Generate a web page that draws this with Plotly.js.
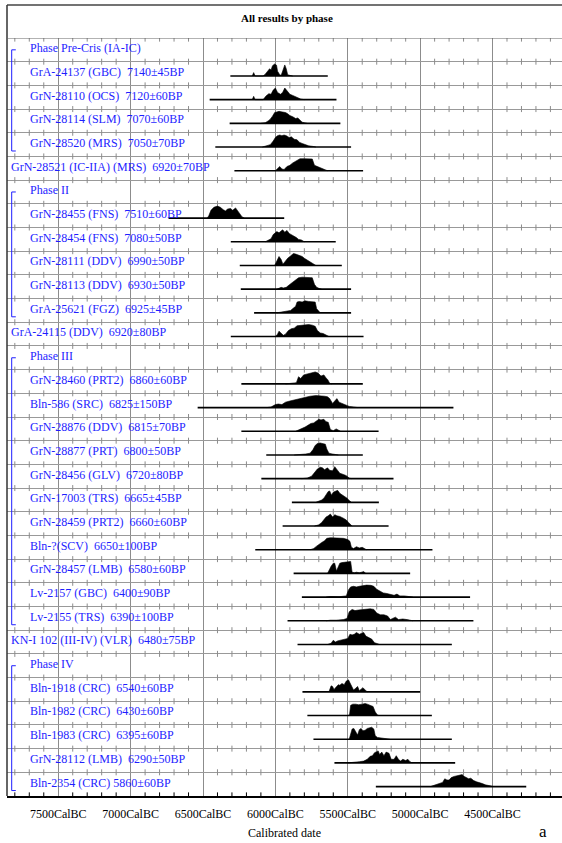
<!DOCTYPE html>
<html>
<head>
<meta charset="utf-8">
<script src="https://cdn.plot.ly/plotly-3.0.1.min.js"></script>
<style>
html,body{margin:0;padding:0;background:#fff;overflow:hidden;}
#chart{width:562px;height:843px;}
</style>
</head>
<body>
<div id="chart"></div>
<script>
// ---------------- DATA ----------------
const rowLabels = [
  "Phase Pre-Cris (IA-IC)",
  "GrA-24137 (GBC) \u00a07140±45BP",
  "GrN-28110 (OCS) \u00a07120±60BP",
  "GrN-28114 (SLM) \u00a07070±60BP",
  "GrN-28520 (MRS) \u00a07050±70BP",
  "GrN-28521 (IC-IIA) (MRS) \u00a06920±70BP",
  "Phase II",
  "GrN-28455 (FNS) \u00a07510±60BP",
  "GrN-28454 (FNS) \u00a07080±50BP",
  "GrN-28111 (DDV) \u00a06990±50BP",
  "GrN-28113 (DDV) \u00a06930±50BP",
  "GrA-25621 (FGZ) \u00a06925±45BP",
  "GrA-24115 (DDV) \u00a06920±80BP",
  "Phase III",
  "GrN-28460 (PRT2) \u00a06860±60BP",
  "Bln-586 (SRC) \u00a06825±150BP",
  "GrN-28876 (DDV) \u00a06815±70BP",
  "GrN-28877 (PRT) \u00a06800±50BP",
  "GrN-28456 (GLV) \u00a06720±80BP",
  "GrN-17003 (TRS) \u00a06665±45BP",
  "GrN-28459 (PRT2) \u00a06660±60BP",
  "Bln-?(SCV) \u00a06650±100BP",
  "GrN-28457 (LMB) \u00a06580±60BP",
  "Lv-2157 (GBC) \u00a06400±90BP",
  "Lv-2155 (TRS) \u00a06390±100BP",
  "KN-I 102 (III-IV) (VLR) \u00a06480±75BP",
  "Phase IV",
  "Bln-1918 (CRC) \u00a06540±60BP",
  "Bln-1982 (CRC) \u00a06430±60BP",
  "Bln-1983 (CRC) \u00a06395±60BP",
  "GrN-28112 (LMB) \u00a06290±50BP",
  "Bln-2354 (CRC) 5860±60BP"
];
// 'phase' = phase header, 'date' = date inside a phase, 'outside' = date between phases
const rowKind = [
  "phase","date","date","date","date","outside",
  "phase","date","date","date","date","date","outside",
  "phase","date","date","date","date","date","date","date","date","date","date","date","outside",
  "phase","date","date","date","date","date"
];
// calibrated range shown (years cal BC)
const rangeStart = [null,6311,6454,6316,6415,6283,null,6738,6308,6246,6239,6147,6308,null,
  6235,6537,6235,6063,6097,5886,5950,6139,5874,5817,5916,5847,null,5813,5779,5737,5592,5306];
const rangeEnd = [null,5638,5578,5551,5477,5394,null,5939,5583,5541,5477,5477,5391,null,
  5396,4770,5287,5396,5184,5285,5218,4915,5069,4655,4632,4781,null,5000,4919,4781,4758,4267];

// probability distributions: years cal BC and relative density
const distYears = [
  null,
  [6160,6150,6140,6085,6070,6050,6040,6030,6020,6005,5992,5985,5970,5960,5945,5935,5925,5915,5900,5880],
  [6160,6150,6140,6085,6065,6045,6030,6015,6000,5985,5965,5950,5935,5920,5900,5880,5860,5840,5825,5800],
  [6100,6070,6050,6035,6020,6005,5990,5975,5960,5945,5930,5915,5900,5880,5860,5845,5830,5815,5800,5780],
  [6090,6060,6035,6015,6000,5985,5970,5955,5940,5925,5905,5890,5870,5850,5835,5815,5795,5770,5740,5720],
  [6000,5985,5970,5955,5940,5920,5900,5880,5860,5845,5830,5800,5770,5745,5730,5710,5690,5670,5650,5640],
  null,
  [6470,6460,6445,6425,6400,6380,6360,6345,6330,6310,6295,6275,6260,6245,6230,6215],
  [6070,6050,6030,6015,6000,5990,5975,5960,5950,5935,5920,5905,5885,5870,5855,5840,5820,5800],
  [6005,5990,5975,5960,5948,5935,5915,5895,5875,5860,5845,5830,5815,5800,5780,5760,5740,5720],
  [5990,5975,5960,5945,5925,5905,5890,5870,5855,5840,5815,5790,5765,5745,5730,5715,5695,5680],
  [5990,5960,5920,5895,5875,5860,5850,5835,5815,5795,5770,5745,5725,5715,5700,5690],
  [6000,5985,5975,5960,5945,5930,5910,5890,5870,5850,5825,5800,5770,5745,5725,5710,5690,5670,5650,5630],
  null,
  [5930,5890,5855,5840,5825,5805,5780,5760,5740,5725,5705,5685,5665,5650,5638,5625,5610],
  [6060,6030,6000,5980,5955,5930,5900,5870,5840,5800,5760,5720,5690,5660,5640,5625,5605,5590,5575,5560,5535,5510,5490,5460,5430],
  [5860,5840,5815,5795,5775,5755,5735,5715,5700,5685,5665,5650,5635,5620,5600,5580,5565,5550],
  [5870,5830,5790,5760,5740,5725,5710,5690,5670,5655,5645,5630,5615,5590,5565],
  [5820,5780,5750,5730,5710,5690,5675,5660,5640,5625,5605,5590,5575,5555,5530,5510,5490,5475],
  [5720,5700,5680,5665,5650,5635,5625,5612,5600,5585,5570,5555,5540,5520,5505,5490,5475],
  [5730,5700,5680,5665,5650,5635,5620,5605,5590,5575,5555,5530,5510,5495,5480,5470],
  [5760,5735,5715,5700,5680,5660,5645,5620,5590,5560,5530,5500,5485,5475,5460,5440,5420,5400,5385,5370],
  [5640,5630,5615,5600,5590,5578,5565,5555,5540,5520,5500,5480,5470,5455,5440,5420,5405,5390,5375],
  [5650,5620,5560,5510,5495,5480,5460,5440,5420,5395,5370,5340,5320,5300,5275,5255,5230,5200,5180,5160,5140,5110,5080,5050],
  [5650,5620,5580,5530,5505,5490,5470,5450,5425,5400,5375,5345,5320,5300,5275,5250,5225,5205,5190,5170,5150,5120,5090,5070,5050],
  [5640,5615,5600,5585,5570,5550,5525,5500,5485,5470,5455,5440,5420,5405,5390,5375,5355,5335,5315,5295,5280],
  null,
  [5630,5615,5605,5595,5580,5565,5555,5540,5525,5510,5495,5485,5470,5460,5445,5432,5420,5405,5395,5380,5365],
  [5500,5488,5480,5465,5445,5425,5400,5380,5365,5345,5325,5310,5295,5285],
  [5490,5480,5470,5458,5445,5432,5420,5408,5395,5380,5365,5350,5335,5320,5310,5295,5270,5240,5210],
  [5500,5460,5420,5390,5365,5345,5330,5315,5300,5290,5280,5265,5250,5235,5215,5200,5180,5165,5150,5135,5120,5100,5085,5070,5055],
  [4930,4905,4885,4865,4845,4830,4815,4800,4785,4765,4745,4725,4710,4695,4680,4665,4650,4630,4610,4590,4570,4550,4530,4510,4490]
];
const distDens = [
  null,
  [0,0.28,0,0,0.15,0.4,0.6,0.5,0.85,1.0,0.9,0.4,0.1,0.05,0.6,0.92,0.6,0.1,0.05,0],
  [0,0.28,0,0,0.3,0.5,0.45,0.8,0.97,0.6,0.45,0.6,0.97,0.7,0.45,0.35,0.25,0.1,0.05,0],
  [0,0.05,0.2,0.35,0.6,0.9,0.95,1.0,0.97,0.95,0.9,0.8,0.65,0.55,0.4,0.45,0.25,0.1,0.05,0],
  [0,0.1,0.2,0.5,0.8,0.95,1.0,0.95,1.0,0.95,0.8,0.85,0.65,0.6,0.4,0.3,0.2,0.1,0.05,0],
  [0,0.15,0.35,0.15,0.1,0.35,0.45,0.65,0.8,0.85,1.0,1.0,1.0,0.98,0.45,0.35,0.3,0.2,0.1,0],
  null,
  [0,0.2,0.65,0.9,1.0,0.9,0.7,0.6,0.75,0.8,0.65,0.85,0.6,0.3,0.1,0],
  [0,0.1,0.25,0.6,0.8,0.85,0.75,0.95,1.0,0.8,0.95,0.7,0.55,0.5,0.35,0.2,0.15,0],
  [0,0.4,0.75,0.5,0.1,0.3,0.6,0.8,1.0,0.95,0.9,0.85,0.75,0.6,0.45,0.3,0.1,0],
  [0,0.1,0.15,0.1,0.15,0.35,0.5,0.7,0.8,0.95,1.0,1.0,1.0,0.95,0.4,0.15,0.05,0],
  [0,0.05,0.1,0.2,0.4,0.55,0.9,0.95,0.9,1.0,0.95,0.95,0.9,0.35,0.1,0],
  [0,0.2,0.45,0.3,0.1,0.2,0.5,0.65,0.7,0.9,0.95,1.0,1.0,0.95,0.85,0.5,0.3,0.25,0.1,0],
  null,
  [0,0.03,0.1,0.6,0.45,0.75,0.85,0.9,0.95,1.0,0.9,0.65,0.75,0.5,0.35,0.05,0],
  [0,0.05,0.25,0.3,0.25,0.45,0.55,0.65,0.75,0.85,0.95,1.0,1.0,0.95,0.9,0.75,0.35,0.6,0.75,0.45,0.35,0.2,0.1,0.03,0],
  [0,0.1,0.2,0.35,0.5,0.65,0.7,0.85,1.0,0.95,1.0,0.8,0.75,0.15,0.05,0.2,0.1,0],
  [0,0.03,0.08,0.15,0.45,0.8,0.95,1.0,0.95,0.9,0.5,0.15,0.1,0.08,0],
  [0,0.05,0.2,0.55,0.8,0.95,0.9,0.75,0.9,0.7,0.65,1.0,0.75,0.45,0.35,0.25,0.05,0],
  [0,0.08,0.2,0.35,0.6,0.9,0.95,0.6,0.85,0.95,1.0,0.75,0.65,0.5,0.35,0.15,0],
  [0,0.1,0.3,0.55,0.75,0.85,1.0,0.75,0.95,0.85,0.8,0.65,0.5,0.3,0.1,0],
  [0,0.1,0.3,0.45,0.6,0.75,0.95,1.0,1.0,1.0,0.95,0.85,0.7,0.2,0.1,0.25,0.15,0.2,0.1,0],
  [0,0.25,0.6,0.85,0.85,0.2,0.5,0.85,0.9,0.95,0.95,1.0,0.1,0.05,0.1,0.05,0.1,0.15,0],
  [0,0.05,0.03,0.1,0.6,0.85,0.9,0.85,0.9,0.95,1.0,0.98,0.9,0.65,0.45,0.35,0.3,0.2,0.15,0.25,0.1,0.1,0.05,0],
  [0,0.05,0.05,0.1,0.2,0.75,0.95,0.85,0.9,0.95,1.0,1.0,0.95,0.65,0.5,0.5,0.4,0.1,0.2,0.3,0.1,0.15,0.1,0.05,0],
  [0,0.1,0.35,0.2,0.3,0.35,0.45,0.5,0.85,0.8,0.85,1.0,0.85,0.9,1.0,0.7,0.55,0.45,0.15,0.05,0],
  null,
  [0,0.5,0.45,0.2,0.4,0.6,0.55,0.7,0.6,0.9,1.0,0.75,0.35,0.15,0.3,0.45,0.1,0.25,0.35,0.15,0],
  [0,0.05,0.85,0.95,0.95,0.9,0.95,1.0,0.95,0.85,0.75,0.3,0.05,0],
  [0,0.35,0.85,0.9,0.6,0.35,0.8,0.9,0.7,0.75,0.9,0.95,1.0,0.85,0.3,0.15,0.1,0.05,0],
  [0,0.03,0.1,0.15,0.3,0.55,0.6,0.85,0.95,1.0,0.7,0.9,0.6,0.9,0.8,0.3,0.3,0.6,0.3,0.15,0.3,0.2,0.3,0.1,0],
  [0,0.1,0.2,0.25,0.35,0.65,0.55,0.55,0.75,0.85,0.9,0.95,1.0,0.85,0.75,0.65,0.7,0.5,0.4,0.35,0.25,0.15,0.1,0.05,0]
];
const tickVals = [7500,7000,6500,6000,5500,5000,4500];
const tickText = ["7500CalBC","7000CalBC","6500CalBC","6000CalBC","5500CalBC","5000CalBC","4500CalBC"];
const chartTitle = "All results by phase";
const xTitle = "Calibrated date";
const panelLetter = "a";

// ---------------- LAYOUT CONSTANTS ----------------
const W = 562, H = 843;
const M = {l: 7, r: 0, t: 38, b: 47};
const plotW = W - M.l - M.r, plotH = H - M.t - M.b;
const nRows = rowLabels.length;
const X_RANGE = [7854, 4020];
const BASE_OFF = 0.603, PEAK = 0.506, TICK_HALF = 0.127;
const FONT = "Liberation Serif, Times New Roman, serif";
const BLUE = "rgb(30,30,255)";
const GRID = "#8c8c8c";
const px2paperX = p => (p - M.l) / plotW;
const px2paperY = p => (H - M.b - p) / plotH;

const traces = [];

// minor ticks on every row line (every 100 years)
const tx = [], ty = [], bx = [], by = [];
for (let r = 0; r <= nRows; r++) {
  for (let yr = 7800; yr > X_RANGE[1]; yr -= 100) {
    if (yr % 500 === 0) continue;
    if (r === nRows) { bx.push(yr, yr, null); by.push(r - TICK_HALF*1.2, r, null); }
    else if (r === 0) { tx.push(yr, yr, null); ty.push(0, TICK_HALF*1.2, null); }
    else { tx.push(yr, yr, null); ty.push(r - TICK_HALF, r + TICK_HALF, null); }
  }
}
traces.push({x: tx, y: ty, mode: 'lines', line: {color: GRID, width: 1}, hoverinfo: 'skip', showlegend: false});
traces.push({x: bx, y: by, mode: 'lines', line: {color: '#000', width: 1}, hoverinfo: 'skip', showlegend: false});

// baselines (calibrated ranges)
const lx = [], ly = [];
for (let k = 0; k < nRows; k++) {
  if (rangeStart[k] == null) continue;
  lx.push(rangeStart[k], rangeEnd[k], null);
  ly.push(k + BASE_OFF, k + BASE_OFF, null);
}
traces.push({x: lx, y: ly, mode: 'lines', line: {color: '#000', width: 1.6}, hoverinfo: 'skip', showlegend: false});

// distributions
for (let k = 0; k < nRows; k++) {
  if (!distYears[k]) continue;
  const base = k + BASE_OFF;
  traces.push({
    x: distYears[k],
    y: distDens[k].map(h => base - h * PEAK),
    mode: 'lines', fill: 'toself', fillcolor: '#000',
    line: {color: '#000', width: 0.6, shape: 'linear'},
    hoverinfo: 'skip', showlegend: false
  });
}

// annotations: labels
const annotations = [];
for (let k = 0; k < nRows; k++) {
  const xpx = rowKind[k] === 'outside' ? 8.5 : 27.5;
  annotations.push({
    x: px2paperX(xpx), xref: 'paper', xanchor: 'left',
    y: k + 0.43, yref: 'y', yanchor: 'middle',
    text: rowLabels[k], showarrow: false,
    font: {family: FONT, size: 12, color: BLUE}
  });
}
annotations.push({
  x: px2paperX(287), xref: 'paper', xanchor: 'center',
  y: px2paperY(18), yref: 'paper', yanchor: 'middle',
  text: '<b>' + chartTitle + '</b>', showarrow: false,
  font: {family: FONT, size: 11, color: '#000'}
});
annotations.push({
  x: px2paperX(543), xref: 'paper', xanchor: 'center',
  y: px2paperY(831), yref: 'paper', yanchor: 'middle',
  text: panelLetter, showarrow: false,
  font: {family: FONT, size: 17, color: '#000'}
});

// shapes: frame, header line, phase brackets
const shapes = [];
shapes.push({type: 'line', xref: 'paper', yref: 'paper', x0: 0, x1: 1, y0: px2paperY(5), y1: px2paperY(5), line: {color: '#444', width: 1.5}});
shapes.push({type: 'line', xref: 'paper', yref: 'paper', x0: 0, x1: 0, y0: 0, y1: px2paperY(5), line: {color: '#333', width: 1.5}});
shapes.push({type: 'line', xref: 'paper', yref: 'y', x0: 0, x1: 1, y0: 0, y1: 0, line: {color: '#666', width: 1.2}});
const bx0 = px2paperX(11.7), bx1 = px2paperX(15.8);
for (let k = 0; k < nRows; k++) {
  if (rowKind[k] !== 'phase') continue;
  let e = k + 1;
  while (e + 1 < nRows && rowKind[e + 1] === 'date') e++;
  const y0 = k + 0.5, y1 = e + 0.77;
  shapes.push({type: 'path', xref: 'paper', yref: 'y',
    path: `M ${bx1} ${y0} L ${bx0} ${y0} L ${bx0} ${y1} L ${bx1} ${y1}`,
    line: {color: BLUE, width: 1}});
}

const layout = {
  width: W, height: H,
  margin: M,
  paper_bgcolor: '#fff', plot_bgcolor: '#fff',
  showlegend: false,
  font: {family: FONT, size: 12, color: '#000'},
  xaxis: {
    range: X_RANGE, tickvals: tickVals, ticktext: tickText,
    showgrid: true, gridcolor: GRID, gridwidth: 1,
    zeroline: false, showline: true, linecolor: '#000', linewidth: 1.5,
    ticks: '', ticklabelstandoff: 6,
    tickfont: {family: FONT, size: 12, color: '#000'},
    title: {text: xTitle, font: {family: FONT, size: 12, color: '#000'}, standoff: 8},
    fixedrange: true
  },
  yaxis: {
    range: [nRows, 0],
    tickvals: Array.from({length: nRows - 1}, (_, i) => i + 1),
    showgrid: true, gridcolor: '#999', gridwidth: 1,
    showticklabels: false, ticks: '', zeroline: false, showline: false,
    fixedrange: true
  },
  annotations: annotations,
  shapes: shapes
};

Plotly.newPlot('chart', traces, layout, {staticPlot: true, displayModeBar: false});
</script>
</body>
</html>
